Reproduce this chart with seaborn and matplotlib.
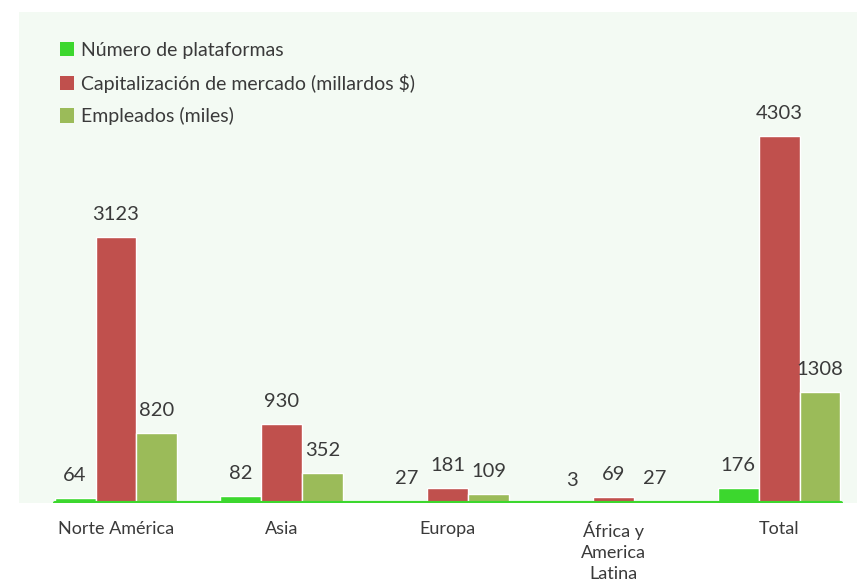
import pandas as pd
import matplotlib.pyplot as plt
import seaborn as sns

# data
regions = ["Norte América", "Asia", "Europa", "África y\nAmerica\nLatina", "Total"]
series = ["Número de plataformas", "Capitalización de mercado (millardos $)", "Empleados (miles)"]
plataformas = [64, 82, 27, 3, 176]
capitalizacion = [3123, 930, 181, 69, 4303]
empleados = [820, 352, 109, 27, 1308]

colors = ["#3cd72e", "#c0504d", "#9bbb59"]

df = pd.DataFrame({
    "region": regions * 3,
    "serie": [series[0]] * 5 + [series[1]] * 5 + [series[2]] * 5,
    "valor": plataformas + capitalizacion + empleados,
})

sns.set_style("white")
plt.rcParams['font.family'] = ['Lato', 'DejaVu Sans']
text_color = "#3a3a3a"

fig = plt.figure(figsize=(8.57, 5.81), dpi=100)
ax = fig.add_axes([19 / 857, 1 - 503 / 581, (857 - 19) / 857, (503 - 12) / 581])
ax.set_facecolor("#f3faf3")

sns.barplot(data=df, x="region", y="valor", hue="serie", order=regions,
            hue_order=series, palette=colors, width=0.74, saturation=1,
            edgecolor="white", linewidth=1, ax=ax)

# value labels above each bar
for container in ax.containers:
    ax.bar_label(container, fmt="%d", padding=10, fontsize=14.5,
                 color=text_color)

ax.set_xlim(-0.585, 4.47)
ax.set_ylim(0, 5760)
ax.axhline(0, xmin=(-0.37 + 0.585) / 5.055, xmax=(4.375 + 0.585) / 5.055,
           color=colors[0], linewidth=3, zorder=5)

ax.set_xlabel("")
ax.set_ylabel("")
ax.set_yticks([])
ax.tick_params(axis="x", length=0, pad=13, labelsize=13, labelcolor=text_color)
for lbl in ax.get_xticklabels():
    lbl.set_linespacing(1.4)
sns.despine(ax=ax, left=True, bottom=True)

leg = ax.legend(loc="upper left", bbox_to_anchor=(0.0276, 0.975), frameon=False,
                fontsize=14, handlelength=0.75, handleheight=0.75,
                handletextpad=0.35, labelspacing=0.76)
for t in leg.get_texts():
    t.set_color(text_color)
for h in leg.legend_handles:
    h.set_edgecolor("none")

fig.savefig("out.png", dpi=100, facecolor="white")
plt.close(fig)
